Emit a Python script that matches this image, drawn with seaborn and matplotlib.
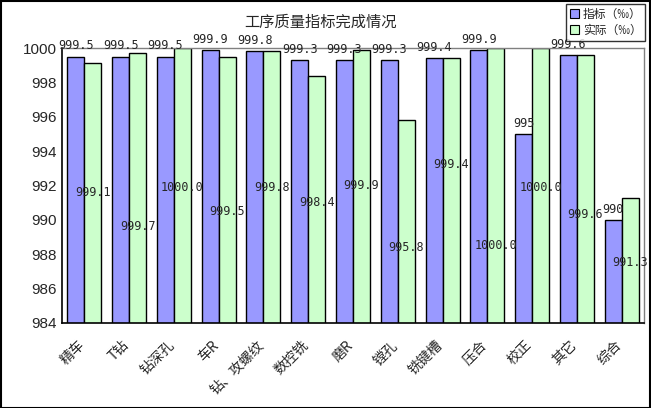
import numpy as np
import pandas as pd
import matplotlib
matplotlib.use('Agg')
import matplotlib.pyplot as plt
import matplotlib.transforms as mtransforms
import seaborn as sns

# categories and values
categories = ['精车', 'T钻', '钻深孔', '车R', '钻、攻螺纹', '数控铣', '磨R',
              '镗孔', '铣键槽', '压合', '校正', '其它', '综合']
target = [999.5, 999.5, 999.5, 999.9, 999.8, 999.3, 999.3,
          999.3, 999.4, 999.9, 995.0, 999.6, 990.0]
actual = [999.1, 999.7, 1000.0, 999.5, 999.8, 998.4, 999.9,
          995.8, 999.4, 1000.0, 1000.0, 999.6, 991.3]
series_names = ['指标（‰）', '实际（‰）']
# where the "actual" labels sit (they were moved by hand in the original)
actual_label_y = [991.6, 989.6, 991.9, 990.5, 991.9, 991.0, 992.0,
                  988.4, 993.2, 988.5, 991.9, 990.3, 987.5]

df = pd.DataFrame({
    'cat': categories * 2,
    'series': [series_names[0]] * len(categories) + [series_names[1]] * len(categories),
    'value': target + actual,
})

sns.set_style('white')
plt.rcParams['font.family'] = ['Noto Sans CJK SC', 'DejaVu Sans']

fig = plt.figure(figsize=(6.51, 4.08), dpi=100)
ax = fig.add_axes([62 / 651, 1 - 323 / 408, 582 / 651, 275 / 408])

sns.barplot(data=df, x='cat', y='value', hue='series', order=categories,
            hue_order=series_names,
            palette={series_names[0]: '#9999FF', series_names[1]: '#CCFFCC'},
            width=0.76, gap=0, edgecolor='black', linewidth=1, saturation=1,
            errorbar=None, ax=ax)

ax.set_ylim(984, 1000)
ax.set_xlim(-0.5, len(categories) - 0.5)
ax.set_yticks(np.arange(984, 1001, 2))
ax.set_xlabel('')
ax.set_ylabel('')

# value labels
num_font = dict(family='DejaVu Sans Mono', size=8.5)
ax.bar_label(ax.containers[0], labels=[f'{v:g}' for v in target], padding=3, **num_font)
for bar, v, ly in zip(ax.containers[1], actual, actual_label_y):
    ax.text(bar.get_x() + bar.get_width() / 2, ly, f'{v:.1f}', ha='center',
            va='center', **num_font)

# ticks
ax.set_xticks(np.arange(-0.5, len(categories), 1), minor=True)
ax.tick_params(axis='x', which='major', length=0, pad=11)
ax.tick_params(axis='x', which='minor', direction='in', length=4, color='black')
ax.tick_params(axis='y', direction='in', length=4, color='black', labelsize=11, pad=4)
for lbl in ax.get_yticklabels():
    lbl.set_family('Liberation Sans')
ax.set_xticks(range(len(categories)))
ax.set_xticklabels(categories, rotation=45, ha='right', rotation_mode='anchor',
                   fontsize=10)
shift = mtransforms.ScaledTranslation(-5 / 72, 0, fig.dpi_scale_trans)
for lbl in ax.get_xticklabels():
    lbl.set_transform(lbl.get_transform() + shift)

for side in ['left', 'bottom']:
    ax.spines[side].set_color('black')
    ax.spines[side].set_linewidth(1.2)
for side in ['top', 'right']:
    ax.spines[side].set_color('#808080')
    ax.spines[side].set_linewidth(1)

ax.legend_.remove()
handles = [plt.Rectangle((0, 0), 1, 1, facecolor=c, edgecolor='black', linewidth=0.8)
           for c in ['#9999FF', '#CCFFCC']]
leg = fig.legend(handles, series_names, loc='upper right',
                 bbox_to_anchor=(645 / 651, 1 - 4 / 408), fontsize=8.5,
                 frameon=True, fancybox=False, shadow=False, handlelength=0.8,
                 handleheight=0.8, handletextpad=0.3, borderpad=0.3,
                 labelspacing=0.3, borderaxespad=0)
leg.get_frame().set_edgecolor('black')
leg.get_frame().set_linewidth(1)

fig.text(320 / 651, 1 - 22 / 408, '工序质量指标完成情况', ha='center', va='center',
         fontsize=11)

# outer border of the chart
fig.patches.append(plt.Rectangle((0.001, 0.001), 0.997, 0.996, transform=fig.transFigure,
                                 fill=False, edgecolor='black', linewidth=1.5))

fig.savefig('out.png', dpi=100)
